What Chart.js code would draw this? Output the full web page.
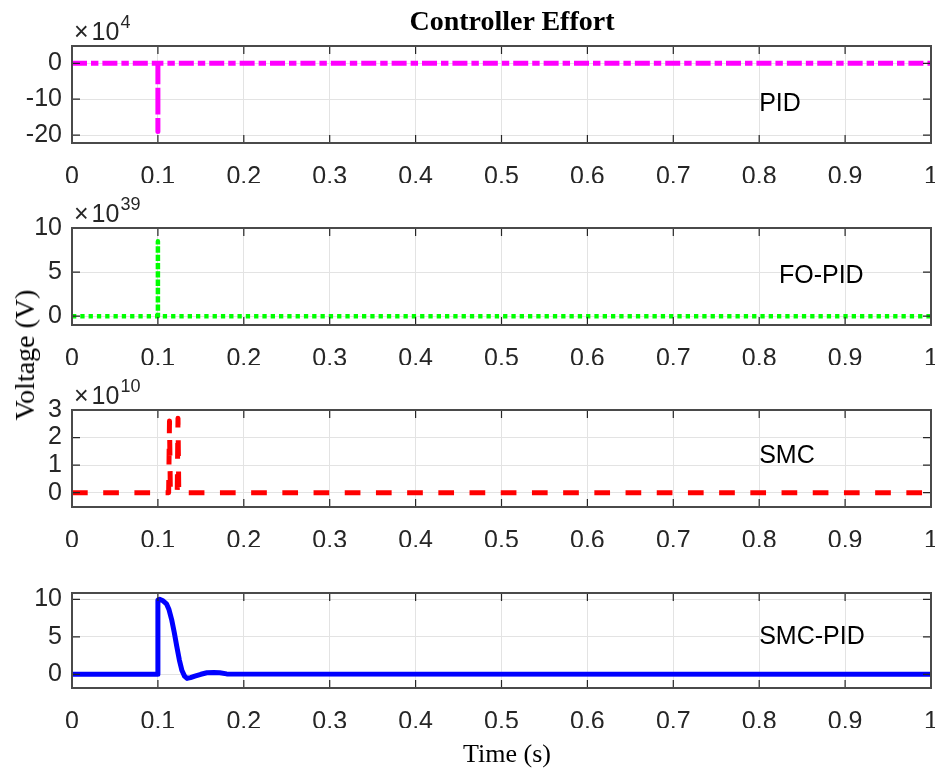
<!DOCTYPE html>
<html><head><meta charset="utf-8">
<script src="https://cdn.jsdelivr.net/npm/chart.js@4.4.1/dist/chart.umd.min.js"></script>
<style>
html,body{margin:0;padding:0;background:#fff;}
#wrap{position:relative;width:935px;height:774px;overflow:hidden;background:#fff;}
canvas{position:absolute;left:0;top:0;}
.lbl{position:absolute;font-family:"Liberation Serif","Times New Roman",serif;color:#000;line-height:1;white-space:nowrap;}
</style></head><body>
<div id="wrap">
<canvas id="c0" width="935" height="774"></canvas>
<canvas id="c1" width="935" height="774"></canvas>
<canvas id="c2" width="935" height="774"></canvas>
<canvas id="c3" width="935" height="774"></canvas>
<div class="lbl" style="left:512px;top:6.5px;font-size:28px;font-weight:bold;transform:translateX(-50%)">Controller Effort</div>
<div class="lbl" style="left:507px;top:741px;font-size:26px;transform:translateX(-50%)">Time (s)</div>
<div class="lbl" style="left:24.5px;top:355px;font-size:28px;transform:translate(-50%,-50%) rotate(-90deg)">Voltage (V)</div>
</div>
<script>
// ---- data ----
const xTicks = [0, 0.1, 0.2, 0.3, 0.4, 0.5, 0.6, 0.7, 0.8, 0.9, 1];
const xTickLabels = ['0', '0.1', '0.2', '0.3', '0.4', '0.5', '0.6', '0.7', '0.8', '0.9', '1'];

// PID (x 10^4 V)
const pidTime = [0, 0.1, 0.1, 0.1, 1];
const pidVolt = [0, 0, -19, 0, 0];
const pidTicks = [-20, -10, 0];

// FO-PID (x 10^39 V)
const foTime = [0, 0.1, 0.1, 0.1, 1];
const foVolt = [0, 0, 8.5, 0, 0];
const foTicks = [0, 5, 10];

// SMC (x 10^10 V)
const smcTime = [0, 0.1125, 0.1135, 0.1145, 0.1225, 0.1234, 0.1243, 1];
const smcVolt = [0, 0, 2.6, 0, 0, 2.7, 0, 0];
const smcTicks = [0, 1, 2, 3];

// SMC-PID (V)
const spTime = [0, 0.1, 0.1, 0.102, 0.106, 0.11, 0.113, 0.116, 0.119, 0.122, 0.125, 0.128, 0.131, 0.134, 0.138, 0.143, 0.15, 0.157, 0.165, 0.172, 0.18, 1];
const spVolt = [0, 0, 9.9, 10, 9.8, 9.4, 8.6, 7.3, 5.6, 3.7, 1.9, 0.5, -0.25, -0.55, -0.45, -0.25, 0.0, 0.2, 0.25, 0.2, 0.05, 0];
const spTicks = [0, 5, 10];

const names = ['PID', 'FO-PID', 'SMC', 'SMC-PID'];
const exponents = ['4', '39', '10', null];

// ---- layout / style ----
const panels = [
  {time: pidTime, volt: pidVolt, ticks: pidTicks, color: '#ff00ff', width: 5, dash: [15, 4, 7.4, 4], top: 46, bottom: 143, min: -22.2, max: 4.83, at: [0.8, -13.2]},
  {time: foTime, volt: foVolt, ticks: foTicks, color: '#00ff00', width: 4.5, dash: [4.3, 4.0], top: 228, bottom: 325, min: -1.0, max: 10, at: [0.823, 3.77]},
  {time: smcTime, volt: smcVolt, ticks: smcTicks, color: '#ff0000', width: 5, dash: [15.7, 15.5], top: 410, bottom: 507, min: -0.52, max: 3, at: [0.8, 1.09]},
  {time: spTime, volt: spVolt, ticks: spTicks, color: '#0000ff', width: 5, dash: [], top: 593, bottom: 688, min: -1.83, max: 10.84, at: [0.8, 4.09]}
];

Chart.defaults.font.family = '"Liberation Sans", Arial, sans-serif';
Chart.defaults.font.size = 25;
Chart.defaults.color = '#262626';

const frame = {
  id: 'frame',
  afterDraw(chart) {
    const p = chart.options.plugins.frame;
    const ctx = chart.ctx, a = chart.chartArea, x = chart.scales.x, y = chart.scales.y;
    ctx.save();
    ctx.strokeStyle = '#262626';
    ctx.lineWidth = 1.2;
    ctx.beginPath();
    x.ticks.forEach(t => {
      const px = x.getPixelForValue(t.value);
      ctx.moveTo(px, a.bottom); ctx.lineTo(px, a.bottom - 8);
      ctx.moveTo(px, a.top); ctx.lineTo(px, a.top + 8);
    });
    y.ticks.forEach(t => {
      const py = y.getPixelForValue(t.value);
      ctx.moveTo(a.left, py); ctx.lineTo(a.left + 8, py);
      ctx.moveTo(a.right, py); ctx.lineTo(a.right - 8, py);
    });
    ctx.stroke();
    ctx.strokeStyle = '#4a4a4a';
    ctx.lineWidth = 2;
    ctx.strokeRect(a.left, a.top, a.right - a.left, a.bottom - a.top);
    ctx.textAlign = 'left';
    ctx.textBaseline = 'alphabetic';
    if (p.exp) {
      ctx.fillStyle = '#262626';
      ctx.font = '25px "Liberation Sans", Arial';
      let ex = a.left + 2;
      const base = a.top - 6;
      ctx.fillText('\u00d7', ex, base);
      ex += ctx.measureText('\u00d7').width + 3;
      ctx.fillText('10', ex, base);
      ex += ctx.measureText('10').width + 1;
      ctx.font = '18px "Liberation Sans", Arial';
      ctx.fillText(p.exp, ex, base - 12);
    }
    ctx.fillStyle = '#000';
    ctx.font = '25px "Liberation Sans", Arial';
    ctx.fillText(p.name, x.getPixelForValue(p.at[0]), y.getPixelForValue(p.at[1]));
    ctx.restore();
  }
};

panels.forEach((p, i) => {
  const data = p.time.map((t, k) => ({x: t, y: p.volt[k]}));
  new Chart(document.getElementById('c' + i), {
    type: 'line',
    data: {datasets: [{
      data: data,
      borderColor: p.color,
      borderWidth: p.width,
      borderDash: p.dash,
      borderCapStyle: 'butt',
      borderJoinStyle: 'round',
      pointRadius: 0,
      tension: 0,
      fill: false
    }]},
    options: {
      responsive: false,
      animation: false,
      devicePixelRatio: 1,
      events: [],
      layout: {padding: {top: p.top, left: 0, right: 4, bottom: 774 - p.bottom - 40}},
      plugins: {
        legend: {display: false},
        tooltip: {enabled: false},
        frame: {name: names[i], exp: exponents[i], at: p.at}
      },
      scales: {
        x: {
          type: 'linear', min: 0, max: 1,
          afterBuildTicks: s => { s.ticks = xTicks.map(v => ({value: v})); },
          afterFit: s => { s.height = 40; s.paddingLeft = 0; s.paddingRight = 0; },
          ticks: {autoSkip: false, maxRotation: 0, padding: 19, color: '#262626',
                  callback: (v, idx) => xTickLabels[idx]},
          grid: {color: '#e3e3e3', lineWidth: 1, drawTicks: false},
          border: {display: false}
        },
        y: {
          type: 'linear', min: p.min, max: p.max,
          afterBuildTicks: s => { s.ticks = p.ticks.map(v => ({value: v})); },
          afterFit: s => { s.width = 72; s.paddingTop = 0; s.paddingBottom = 0; },
          ticks: {autoSkip: false, padding: 10, color: '#262626',
                  callback: (v) => String(v)},
          grid: {color: '#e3e3e3', lineWidth: 1, drawTicks: false},
          border: {display: false}
        }
      }
    },
    plugins: [frame]
  });
});
</script>
</body></html>
